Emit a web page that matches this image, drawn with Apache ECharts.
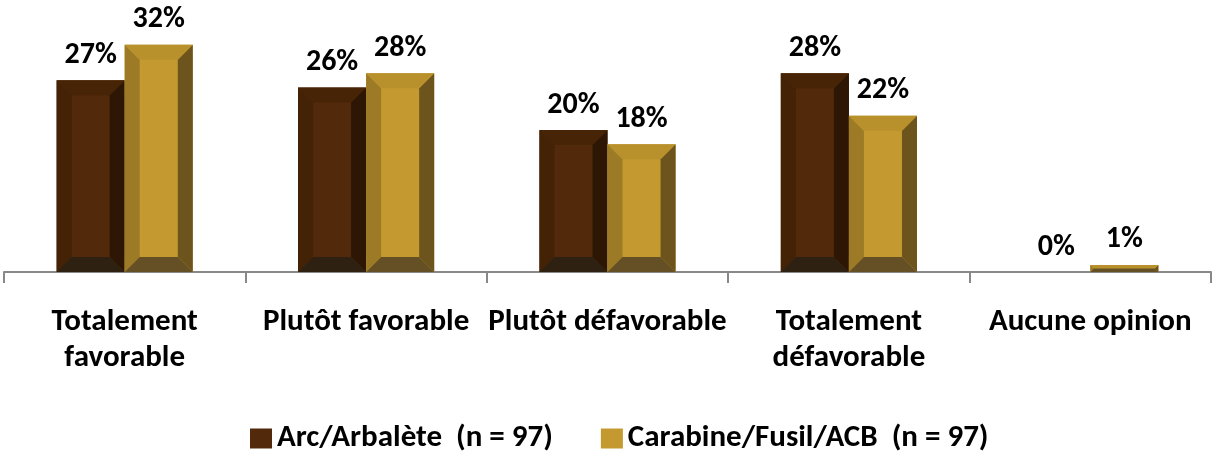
<!DOCTYPE html>
<html><head><meta charset="utf-8">
<script src="https://cdn.jsdelivr.net/npm/echarts@6/dist/echarts.min.js"></script>
<style>html,body{margin:0;padding:0;background:#fff}#c{width:1213px;height:452px}</style>
</head><body><div id="c"></div>
<script>
var categories = ["Totalement\nfavorable", "Plutôt favorable", "Plutôt défavorable", "Totalement\ndéfavorable", "Aucune opinion"];
var seriesNames = ["Arc/Arbalète  (n = 97)", "Carabine/Fusil/ACB  (n = 97)"];
var arcValues = [27, 26, 20, 28, 0];
var carabineValues = [32, 28, 18, 22, 1];

var FONT = 'Carlito, Lato, sans-serif';
var palettes = [
  {base:'#52290a', left:'#432206', right:'#2d1603', top:'#482407', bottom:'#2f2112'},
  {base:'#c49a30', left:'#9c7a26', right:'#6c541c', top:'#b8902c', bottom:'#645024'}
];

function makeRender(si){
  return function(params, api){
    var idx = api.value(0), val = api.value(1);
    var base = api.coord([idx, 0]);
    var top = api.coord([idx, val]);
    var cw = api.size([1, 0])[0];
    var bw = cw * 0.282;
    var x0 = si === 0 ? base[0] - bw : base[0];
    var x1 = x0 + bw;
    var y0 = top[1], y1 = base[1];
    var h = y1 - y0;
    var p = palettes[si];
    var children = [];
    if (h > 0.5) {
      var b = Math.min(15, h / 2, bw / 2);
      children.push({type:'rect', shape:{x:x0, y:y0, width:bw, height:h}, style:{fill:p.base}});
      children.push({type:'polygon', shape:{points:[[x0,y0],[x0+b,y0+b],[x0+b,y1-b],[x0,y1]]}, style:{fill:p.left}});
      children.push({type:'polygon', shape:{points:[[x1,y0],[x1-b,y0+b],[x1-b,y1-b],[x1,y1]]}, style:{fill:p.right}});
      children.push({type:'polygon', shape:{points:[[x0,y0],[x1,y0],[x1-b,y0+b],[x0+b,y0+b]]}, style:{fill:p.top}});
      children.push({type:'polygon', shape:{points:[[x0,y1],[x1,y1],[x1-b,y1-b],[x0+b,y1-b]]}, style:{fill:p.bottom}});
    }
    children.push({type:'text', style:{text: val + '%', x:(x0+x1)/2, y:y0 - 10, align:'center', verticalAlign:'bottom',
      font:'bold 30px ' + FONT, fill:'#000'}});
    return {type:'group', children:children};
  };
}

var chart = echarts.init(document.getElementById('c'));
chart.setOption({
  animation:false,
  grid:{left:4, right:2, top:16.4, bottom:180, containLabel:false},
  legend:{top:418, left:245, itemWidth:22, itemHeight:20, itemGap:48, icon:'rect',
    textStyle:{fontFamily:FONT, fontWeight:'bold', fontSize:31, lineHeight:30, color:'#000'},
    data:seriesNames},
  xAxis:{type:'category', data:categories,
    axisLine:{lineStyle:{color:'#888', width:2}},
    axisTick:{show:true, length:11, lineStyle:{color:'#888', width:2}},
    axisLabel:{interval:0, margin:32, fontFamily:FONT, fontWeight:'bold', fontSize:31, color:'#000', lineHeight:36}},
  yAxis:{type:'value', min:0, max:36, show:false, splitLine:{show:false}},
  series:[
    {name:seriesNames[0], type:'custom', renderItem:makeRender(0), itemStyle:{color:palettes[0].base},
      encode:{x:0, y:1}, data:arcValues.map(function(v,i){return [i,v];})},
    {name:seriesNames[1], type:'custom', renderItem:makeRender(1), itemStyle:{color:palettes[1].base},
      encode:{x:0, y:1}, data:carabineValues.map(function(v,i){return [i,v];})}
  ]
});
</script></body></html>
